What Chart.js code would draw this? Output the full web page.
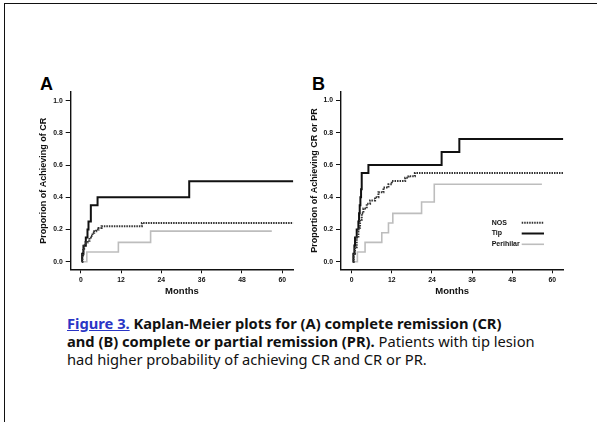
<!DOCTYPE html>
<html>
<head>
<meta charset="utf-8">
<script src="https://cdn.jsdelivr.net/npm/chart.js@4.4.1/dist/chart.umd.min.js"></script>
<style>
body { margin: 0; background: #fff; width: 597px; height: 422px; overflow: hidden; position: relative; font-family: "Liberation Sans", Arial, sans-serif; }
#frame { position: absolute; left: 4px; top: 3px; right: 0; bottom: 0; border-left: 1px solid #111; border-top: 1px solid #111; }
.panel { position: absolute; }
.lbl { position: absolute; font-weight: bold; font-size: 18px; line-height: 18px; color: #000; }
#caption { position: absolute; left: 67px; top: 314px; width: 525px; font-family: "Noto Sans", sans-serif; font-size: 14.7px; line-height: 18px; color: #111; white-space: nowrap; }
#caption a { color: #2a35c5; text-decoration: underline; font-weight: bold; }
</style>
</head>
<body>
<div id="frame"></div>
<div class="lbl" style="left:40px; top:75px;">A</div>
<div class="lbl" style="left:312px; top:75px;">B</div>
<canvas id="chartA" class="panel" width="270" height="240" style="left:30px; top:70px;"></canvas>
<canvas id="chartB" class="panel" width="280" height="240" style="left:300px; top:70px;"></canvas>
<div id="caption"><a>Figure 3.</a> <b>Kaplan-Meier plots for (A) complete remission (CR)<br>and (B) complete or partial remission (PR).</b> Patients with tip lesion<br>had higher probability of achieving CR and CR or PR.</div>
<script>
var seriesNames = ['NOS', 'Tip', 'Perihilar'];
var xTicks = [0, 12, 24, 36, 48, 60];
var yTicks = [0, 0.2, 0.4, 0.6, 0.8, 1.0];

// (A) complete remission
var nosCrMonths = [0.3, 0.5, 0.7, 1.0, 1.3, 2.0, 2.6, 3.0, 3.5, 4.0, 4.6, 5.3, 6.2, 18.2, 63.3];
var nosCrProb   = [0, 0.04, 0.08, 0.10, 0.12, 0.13, 0.15, 0.16, 0.18, 0.19, 0.20, 0.21, 0.22, 0.24, 0.24];
var tipCrMonths = [0.3, 0.4, 0.8, 1.5, 2.0, 2.3, 3.0, 5.0, 32.3, 63.3];
var tipCrProb   = [0, 0.05, 0.10, 0.15, 0.20, 0.25, 0.35, 0.40, 0.50, 0.50];
var periCrMonths = [0.3, 1.8, 11.2, 20.8, 56.9];
var periCrProb   = [0, 0.06, 0.12, 0.19, 0.19];

// (B) complete or partial remission
var nosPrMonths = [0.3, 0.6, 1.0, 1.5, 2.0, 2.5, 3.0, 3.5, 4.5, 5.5, 7.0, 8.0, 9.5, 11.0, 12.0, 16.0, 17.0, 18.9, 63.3];
var nosPrProb   = [0, 0.05, 0.09, 0.15, 0.21, 0.26, 0.30, 0.33, 0.36, 0.38, 0.40, 0.43, 0.46, 0.48, 0.50, 0.52, 0.53, 0.55, 0.55];
var tipPrMonths = [0.3, 0.5, 0.8, 1.0, 1.5, 2.0, 2.2, 2.4, 2.6, 2.8, 3.0, 5.0, 26.9, 32.2, 63.3];
var tipPrProb   = [0, 0.05, 0.10, 0.15, 0.20, 0.25, 0.30, 0.35, 0.40, 0.45, 0.55, 0.60, 0.68, 0.76, 0.76];
var periPrMonths = [0.3, 1.7, 4.0, 9.0, 11.0, 12.3, 20.9, 24.7, 56.9];
var periPrProb   = [0, 0.06, 0.12, 0.18, 0.24, 0.30, 0.37, 0.48, 0.48];

Chart.defaults.font.family = '"Liberation Sans", Arial, sans-serif';
Chart.defaults.color = '#111';

function pts(xs, ys) {
    return xs.map(function (x, i) { return { x: x, y: ys[i] }; });
}

var styles = [
    { borderColor: '#333', borderWidth: 2, borderDash: [1.5, 1] },
    { borderColor: '#111', borderWidth: 2, borderDash: [] },
    { borderColor: '#bdbdbd', borderWidth: 1.6, borderDash: [] }
];

function makeDatasets(list) {
    return list.map(function (d, i) {
        return {
            label: seriesNames[i],
            data: pts(d[0], d[1]),
            stepped: 'before',
            fill: false,
            pointRadius: 0,
            borderColor: styles[i].borderColor,
            borderWidth: styles[i].borderWidth,
            borderDash: styles[i].borderDash
        };
    });
}

// legend drawn inside panel B
var innerLegend = {
    id: 'innerLegend',
    afterDatasetsDraw: function (chart) {
        var ctx = chart.ctx;
        var area = chart.chartArea;
        ctx.save();
        ctx.font = 'bold 7px "Liberation Sans", Arial, sans-serif';
        ctx.fillStyle = '#111';
        ctx.textBaseline = 'middle';
        chart.data.datasets.forEach(function (ds, i) {
            var y = area.top + 131 + i * 10.8;
            ctx.fillText(ds.label, area.left + 150.7, y);
            ctx.beginPath();
            ctx.strokeStyle = ds.borderColor;
            ctx.lineWidth = ds.borderWidth;
            ctx.setLineDash(ds.borderDash);
            ctx.moveTo(area.left + 180.7, y);
            ctx.lineTo(area.left + 203, y);
            ctx.stroke();
        });
        ctx.restore();
    }
};

function makeOptions(yTitle, xMin, pad, yWidth) {
    var tickFont = { size: 6.8, weight: 'bold' };
    return {
        responsive: false,
        animation: false,
        devicePixelRatio: 1,
        layout: { padding: pad },
        plugins: { legend: { display: false }, tooltip: { enabled: false } },
        scales: {
            x: {
                type: 'linear',
                min: xMin,
                max: 63.3,
                afterBuildTicks: function (s) { s.ticks = xTicks.map(function (v) { return { value: v }; }); },
                afterFit: function (s) { s.height = 28.1; },
                ticks: { font: tickFont, padding: 3, color: '#111', maxRotation: 0 },
                grid: { drawOnChartArea: false, drawTicks: true, tickLength: 4, color: '#111', lineWidth: 1 },
                border: { display: true, color: '#111', width: 1.4 },
                title: { display: true, text: 'Months', font: { size: 9.5, weight: 'bold' }, padding: 0, color: '#111' }
            },
            y: {
                min: -0.047,
                max: 1.054,
                afterBuildTicks: function (s) { s.ticks = yTicks.map(function (v) { return { value: v }; }); },
                afterFit: function (s) { s.width = yWidth; },
                ticks: { font: tickFont, padding: 3, color: '#111', callback: function (v) { return v.toFixed(1); } },
                grid: { drawOnChartArea: false, drawTicks: true, tickLength: 5, color: '#111', lineWidth: 1 },
                border: { display: true, color: '#111', width: 1.4 },
                title: { display: true, text: yTitle, font: { size: 9, weight: 'bold' }, padding: 0, color: '#111' }
            }
        }
    };
}

var chartA = new Chart(document.getElementById('chartA').getContext('2d'), {
    type: 'line',
    data: {
        datasets: makeDatasets([[nosCrMonths, nosCrProb], [tipCrMonths, tipCrProb], [periCrMonths, periCrProb]])
    },
    options: makeOptions('Proporion of Achieving of CR', -3, { left: 8.6, right: 6.7, top: 22, bottom: 12.6 }, 32.1)
});

var chartB = new Chart(document.getElementById('chartB').getContext('2d'), {
    type: 'line',
    data: {
        datasets: makeDatasets([[nosPrMonths, nosPrProb], [tipPrMonths, tipPrProb], [periPrMonths, periPrProb]])
    },
    options: makeOptions('Proportion of Achieving CR or PR', -3.2, { left: 9.6, right: 16.7, top: 21.7, bottom: 12.6 }, 31.4),
    plugins: [innerLegend]
});
</script>
</body>
</html>
